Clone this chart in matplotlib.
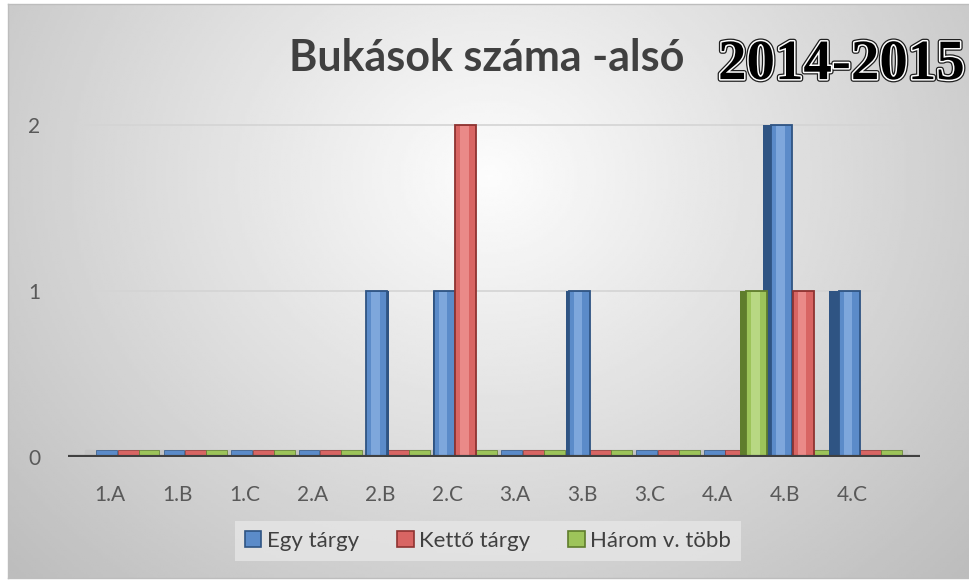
import numpy as np
import matplotlib
matplotlib.use('Agg')
import matplotlib.pyplot as plt
from matplotlib.patches import Patch
import matplotlib.patheffects as pe

plt.rcParams['font.family'] = ['Lato', 'DejaVu Sans']

classes = ['1.A', '1.B', '1.C', '2.A', '2.B', '2.C', '3.A', '3.B', '3.C', '4.A', '4.B', '4.C']
egy = [0, 0, 0, 0, 1, 1, 0, 1, 0, 0, 2, 1]
ketto = [0, 0, 0, 0, 0, 2, 0, 0, 0, 0, 1, 0]
harom = [0, 0, 0, 0, 0, 0, 0, 0, 0, 1, 0, 0]
series_names = ['Egy tárgy', 'Kettő tárgy', 'Három v. több']
yticks = [0, 1, 2]

# face, highlight, side/edge
colors = [('#5b8bc9', '#7ea7dc', '#2f5483'),
          ('#d86563', '#ea8a88', '#8e3331'),
          ('#9dc45a', '#b8d883', '#5f7d2c')]

fig = plt.figure(figsize=(9.7, 5.81), dpi=100)
fig.patch.set_facecolor('white')

# background with soft radial gradient
bg = fig.add_axes([8 / 970, 3 / 581, 962 / 970, 574 / 581])
gx, gy = np.meshgrid(np.linspace(0, 1, 400), np.linspace(0, 1, 240))
r = np.sqrt(((gx - 0.5) / 0.55) ** 2 + ((gy - 0.3) / 0.8) ** 2)
shade = np.clip(0.99 - 0.2 * r, 0.74, 1)
bg.imshow(shade, cmap='gray', vmin=0, vmax=1, aspect='auto', extent=[0, 1, 1, 0])
bg.set_xticks([])
bg.set_yticks([])
for s in bg.spines.values():
    s.set_color('#bdbdbd')
    s.set_linewidth(1)

ax = fig.add_axes([68 / 970, 124 / 581, 852 / 970, 349 / 581])
ax.set_facecolor('none')
x = np.arange(len(classes))
ax.set_xlim(-0.62, 12.0)
ax.set_ylim(0, 2.1)

for yv in yticks[1:]:
    ax.axhline(yv, xmin=0.02, xmax=0.98, color='#d4d4d4', lw=1.2, zorder=0)

# floor
ax.axhspan(0, 0.045, xmin=0.02, xmax=0.985, color='#c4c4c4', zorder=1)

w = 0.31
offs = [-0.05, 0.27, 0.58]
data = [egy, ketto, harom]
for k, vals in enumerate(data):
    face, light, dark = colors[k]
    vals = np.array(vals)
    pos = x + offs[k]
    # flat slabs on the floor for every bar
    ax.bar(pos, 0.04, w, color=face, edgecolor=dark, lw=0.5, zorder=2)
    for i in range(len(pos)):
        v = vals[i]
        if v == 0:
            continue
        side = 0.025 * abs(i - 5.2)
        if i < 5:
            ax.bar(pos[i] + w / 2 + side / 2, v, side, color=dark, lw=0, zorder=3)
        else:
            ax.bar(pos[i] - w / 2 - side / 2, v, side, color=dark, lw=0, zorder=3)
        ax.bar(pos[i], v, w, color=face, edgecolor=dark, lw=1.3, zorder=4)
        ax.bar(pos[i] - w * 0.05, v - 0.02, w * 0.4, bottom=0.01, color=light, lw=0, zorder=5)

ax.axhline(0, color='#404040', lw=3, zorder=6)

ax.set_xticks(x)
ax.set_xticklabels(classes, fontsize=15, color='#595959')
ax.set_yticks(yticks)
ax.set_yticklabels([str(t) for t in yticks], fontsize=15, color='#595959')
ax.tick_params(axis='x', length=0, pad=20)
ax.tick_params(axis='y', length=0, pad=20)
for s in ax.spines.values():
    s.set_visible(False)

fig.text(0.502, 0.9, 'Bukások száma -alsó', ha='center', va='center',
         fontsize=31, fontweight='bold', color='#404040')
fig.text(0.995, 0.888, '2014-2015', ha='right', va='center',
         fontsize=41, fontweight='bold', family=['Liberation Serif', 'DejaVu Serif'],
         color='black',
         path_effects=[pe.withStroke(linewidth=4, foreground='#202020'),
                       pe.Stroke(linewidth=2.2, foreground='white'),
                       pe.Normal()])

handles = [Patch(facecolor=c[0], edgecolor=c[2], lw=1.2) for c in colors]
leg = fig.legend(handles, series_names, loc='center', bbox_to_anchor=(488 / 970, 1 - 541 / 581),
                 ncol=3, fontsize=16, frameon=True, fancybox=False,
                 handlelength=0.75, handleheight=0.75, handletextpad=0.25, columnspacing=1.7,
                 borderpad=0.45, borderaxespad=0)
leg.get_frame().set_facecolor('#e6e6e6')
leg.get_frame().set_edgecolor('none')
for t in leg.get_texts():
    t.set_color('#404040')

fig.savefig('out.png', dpi=100)
